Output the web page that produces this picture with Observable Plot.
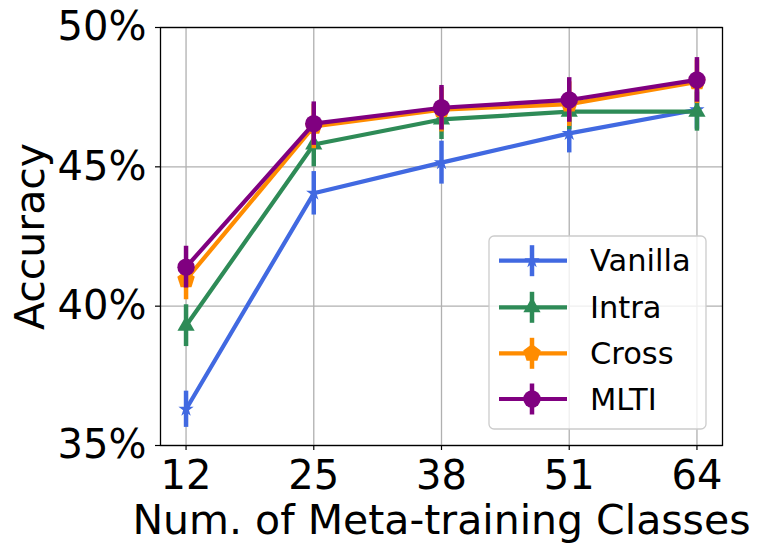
<!DOCTYPE html>
<html><head><meta charset="utf-8">
<script src="https://cdn.jsdelivr.net/npm/d3@7"></script>
<script src="https://cdn.jsdelivr.net/npm/@observablehq/plot@0.6"></script>
<style>body{margin:0;background:#fff;} svg{font-family:"DejaVu Sans";}</style>
</head><body><div id="chart"></div>
<script>
const classes = [12, 25, 38, 51, 64];
const yTicks = [35, 40, 45, 50];
const seriesNames = ["Vanilla", "Intra", "Cross", "MLTI"];
const colors = ["#4169E1", "#2E8B57", "#FF8C00", "#800080"];
const vanilla = [36.3, 44.05, 45.15, 46.2, 47.05];
const vanillaErr = [0.65, 0.78, 0.77, 0.7, 0.7];
const intra = [39.3, 45.8, 46.7, 46.98, 46.98];
const intraErr = [0.75, 0.8, 0.72, 0.65, 0.7];
const cross = [40.95, 46.45, 47.05, 47.25, 48.05];
const crossErr = [0.72, 0.8, 0.8, 0.8, 0.78];
const mlti = [41.4, 46.55, 47.12, 47.4, 48.12];
const mltiErr = [0.75, 0.78, 0.8, 0.8, 0.8];

const pentagon = {
  draw(ctx, size) {
    const R = Math.sqrt(size / Math.PI);
    for (let k = 0; k < 5; k++) {
      const a = -Math.PI / 2 + k * 2 * Math.PI / 5;
      const px = R * Math.cos(a), py = R * Math.sin(a);
      if (k === 0) ctx.moveTo(px, py); else ctx.lineTo(px, py);
    }
    ctx.closePath();
  }
};
const symbols = [d3.symbolStar, d3.symbolTriangle, pentagon, d3.symbolCircle];
const radii = [4.8, 6.4, 9.2, 8.7];
const values = [vanilla, intra, cross, mlti];
const errs = [vanillaErr, intraErr, crossErr, mltiErr];

const rows = [];
seriesNames.forEach((s, si) => classes.forEach((c, i) => rows.push({series: s, si, x: c, y: values[si][i], err: errs[si][i]})));

const FS = 40;
const marks = [
  Plot.gridX(classes, {stroke: "#b0b0b0", strokeOpacity: 1, strokeWidth: 1.3}),
  Plot.gridY(yTicks, {stroke: "#b0b0b0", strokeOpacity: 1, strokeWidth: 1.3})
];
seriesNames.forEach((s, si) => {
  const d = rows.filter(r => r.si === si);
  marks.push(Plot.ruleX(d, {x: "x", y1: r => r.y - r.err, y2: r => r.y + r.err, stroke: colors[si], strokeWidth: 4.5}));
  marks.push(Plot.line(d, {x: "x", y: "y", stroke: colors[si], strokeWidth: 4.2}));
  marks.push(Plot.dot(d, {x: "x", y: "y", symbol: symbols[si], r: radii[si], fill: colors[si], stroke: "none"}));
});
marks.push(
  Plot.axisX({ticks: classes, tickFormat: d => String(d), tickSize: 5, tickPadding: 10, fontSize: FS, label: null, stroke: "black", strokeWidth: 1.2}),
  Plot.axisY({ticks: yTicks, tickFormat: d => d + "%", tickSize: 5, tickPadding: 9, fontSize: FS, label: null, stroke: "black", strokeWidth: 1.2}),
  Plot.frame({stroke: "black", strokeWidth: 1.3}),
  Plot.text(["Accuracy"], {frameAnchor: "left", dx: -130, rotate: -90, text: d => d, fontSize: 41, textAnchor: "middle", lineAnchor: "middle", fill: "black"}),
  Plot.text(["Num. of Meta-training Classes"], {frameAnchor: "bottom", dy: 75, text: d => d, fontSize: 41, textAnchor: "middle", lineAnchor: "middle", fill: "black"})
);

const chart = Plot.plot({
  width: 761, height: 554,
  marginLeft: 160, marginRight: 39, marginTop: 27, marginBottom: 109,
  style: {background: "white", color: "black", fontFamily: "DejaVu Sans", overflow: "visible"},
  x: {type: "linear", domain: [9.4, 66.6]},
  y: {domain: [35, 50]},
  marks
});
document.getElementById("chart").appendChild(chart);

// Legend
const svg = d3.select(chart);
const lg = svg.append("g");
lg.append("rect").attr("x", 489).attr("y", 236).attr("width", 217).attr("height", 193)
  .attr("rx", 5).attr("fill", "white").attr("fill-opacity", 0.8)
  .attr("stroke", "#cccccc").attr("stroke-width", 1.3);
const rowY = [260.7, 307.3, 353.3, 399];
seriesNames.forEach((s, si) => {
  const g = lg.append("g").attr("transform", `translate(0,${rowY[si]})`);
  g.append("line").attr("x1", 499).attr("x2", 567).attr("y1", 0).attr("y2", 0).attr("stroke", colors[si]).attr("stroke-width", 4.2);
  g.append("line").attr("x1", 532).attr("x2", 532).attr("y1", -15.5).attr("y2", 15.5).attr("stroke", colors[si]).attr("stroke-width", 4.5);
  g.append("path").attr("transform", "translate(532,0)").attr("d", d3.symbol(symbols[si], Math.PI * radii[si] * radii[si])()).attr("fill", colors[si]);
  g.append("text").attr("x", 590).attr("y", 0).attr("dy", "0.35em").attr("text-anchor", "start")
    .attr("font-size", 30.5).attr("font-family", "DejaVu Sans").attr("fill", "black").text(s);
});
</script>
</body></html>
